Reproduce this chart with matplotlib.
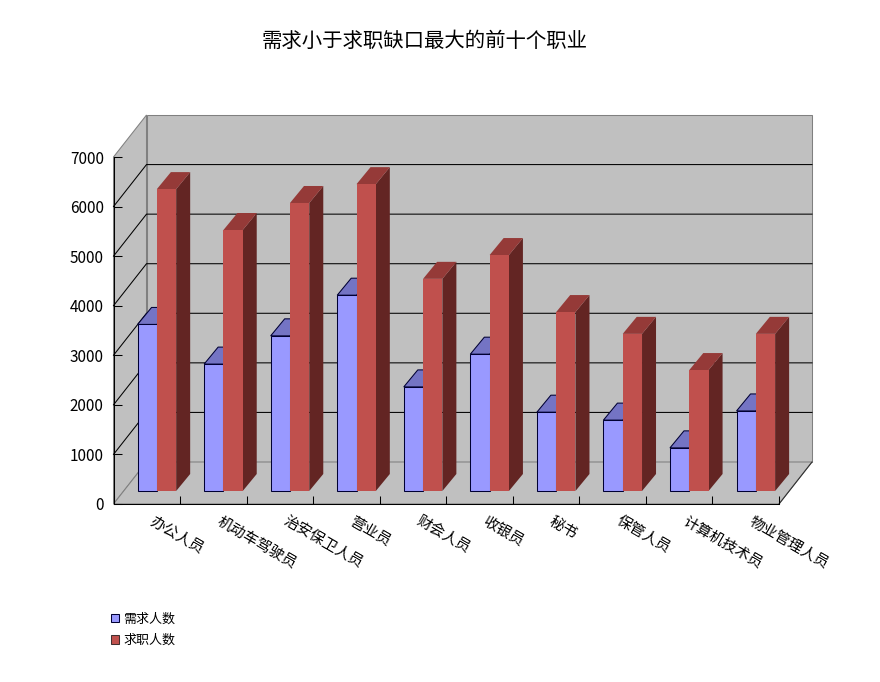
import matplotlib
matplotlib.use('Agg')
import matplotlib.pyplot as plt
from matplotlib.patches import Patch, Polygon
from matplotlib.transforms import ScaledTranslation

plt.rcParams['font.family'] = ['Noto Sans CJK SC', 'DejaVu Sans']

title = '需求小于求职缺口最大的前十个职业'
jobs = ['办公人员', '机动车驾驶员', '治安保卫人员', '营业员', '财会人员',
        '收银员', '秘书', '保管人员', '计算机技术员', '物业管理人员']
demand = [3360, 2560, 3130, 3950, 2100, 2760, 1590, 1430, 870, 1615]
seekers = [6090, 5265, 5810, 6190, 4280, 4760, 3610, 3170, 2440, 3170]
yticks = [0, 1000, 2000, 3000, 4000, 5000, 6000, 7000]

W, H = 880, 682
LEFT, RIGHT, BOTTOM, TOP = 113.5, 779, 504, 157
px_x = (RIGHT - LEFT) / len(jobs)
px_y = (BOTTOM - TOP) / yticks[-1]

# schraege tiefe, alles in daten einheiten
wall_dx, wall_dy = 33 / px_x, 42 / px_y
bar_dx, bar_dy = 14 / px_x, 17 / px_y
off_x, off_y = 10.3 / px_x, 13 / px_y
bar_w = 0.29
LW = 0.75

fig = plt.figure(figsize=(W / 100, H / 100), dpi=100)
ax = fig.add_axes([LEFT / W, 1 - BOTTOM / H, (RIGHT - LEFT) / W, (BOTTOM - TOP) / H])
ax.set_xlim(0, len(jobs))
ax.set_ylim(0, yticks[-1])
ax.patch.set_visible(False)

wall = '#c0c0c0'
edge = '#808080'
n = len(jobs)
top = yticks[-1]


def poly(pts, face, ec='none', lw=LW, z=0):
    ax.add_patch(Polygon(pts, closed=True, fc=face, ec=ec, lw=lw, zorder=z, clip_on=False))


poly([(0, 0), (wall_dx, wall_dy), (wall_dx, top + wall_dy), (0, top)], wall, edge)
poly([(wall_dx, wall_dy), (n + wall_dx, wall_dy), (n + wall_dx, top + wall_dy), (wall_dx, top + wall_dy)], wall, edge)
poly([(0, 0), (n, 0), (n + wall_dx, wall_dy), (wall_dx, wall_dy)], wall, edge)

for v in yticks[1:-1]:
    ax.plot([0, wall_dx, n + wall_dx], [v, v + wall_dy, v + wall_dy], color='black', lw=LW, zorder=1, clip_on=False)
ax.plot([n, n + wall_dx], [0, wall_dy], color='#303030', lw=LW, zorder=1, clip_on=False)


def column(x, v, front, topc, side, ec='none'):
    x0, x1 = x + off_x, x + bar_w + off_x
    b, t = off_y, v + off_y
    poly([(x1, b), (x1 + bar_dx, b + bar_dy), (x1 + bar_dx, t + bar_dy), (x1, t)], side, z=2)
    poly([(x0, t), (x1, t), (x1 + bar_dx, t + bar_dy), (x0 + bar_dx, t + bar_dy)], topc, ec, z=2)
    poly([(x0, b), (x1, b), (x1, t), (x0, t)], front, ec, z=2)


for i in range(n):
    column(i + 0.207, demand[i], '#9999ff', '#7474c4', '#5a5a96', ec='#000033')
    column(i + 0.497, seekers[i], '#c0504d', '#953a38', '#632523')

ax.spines['top'].set_visible(False)
ax.spines['right'].set_visible(False)
ax.spines['left'].set_linewidth(LW)
ax.spines['bottom'].set_linewidth(LW)

ax.set_yticks(yticks)
ax.tick_params(axis='y', which='major', direction='in', length=5.8, width=LW, labelsize=11, pad=7)
ax.set_xticks(range(n + 1), [''] * (n + 1))
ax.tick_params(axis='x', which='major', direction='in', length=5.8, width=LW)
ax.set_xticks([i + 0.5 for i in range(n)], jobs, minor=True)
ax.tick_params(axis='x', which='minor', length=0, labelsize=10.7, pad=11.6)
shift = ScaledTranslation(4.5 / 100, 0, fig.dpi_scale_trans)
for lab in ax.get_xticklabels(minor=True):
    lab.set(rotation=-30, rotation_mode='anchor', ha='left', va='center')
    lab.set_transform(lab.get_transform() + shift)

fig.text(425 / W, 1 - 41 / H, title, fontsize=14.7, ha='center', va='center')

handles = [Patch(fc='#9999ff', ec='#000033', lw=LW, label='需求人数'),
           Patch(fc='#c0504d', ec='#403030', lw=LW, label='求职人数')]
fig.legend(handles=handles, loc='upper left', bbox_to_anchor=(111 / W, 1 - 612.5 / H),
           frameon=False, fontsize=9.4, handlelength=0.65, handleheight=0.65,
           handletextpad=0.3, labelspacing=0.66, borderpad=0, borderaxespad=0)

fig.savefig('out.png', dpi=100, facecolor='white')
